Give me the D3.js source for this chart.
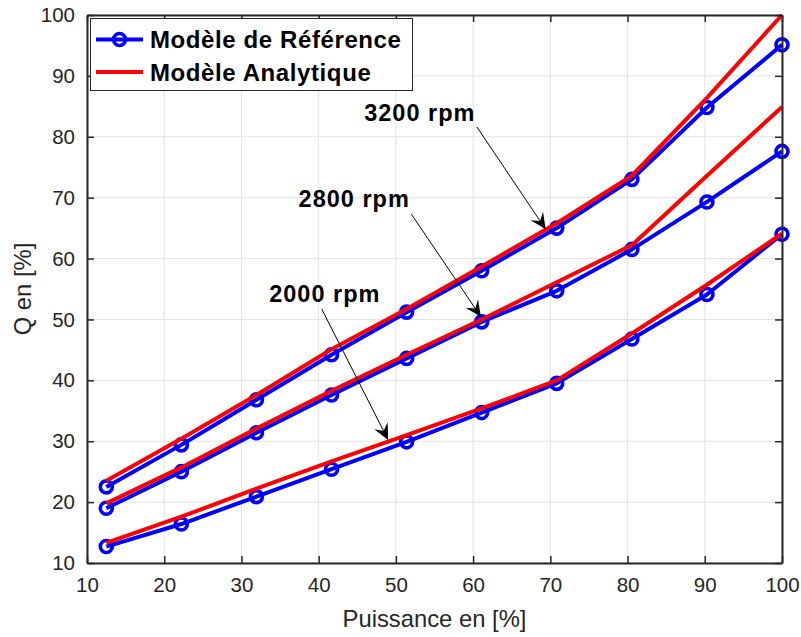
<!DOCTYPE html>
<html>
<head>
<meta charset="utf-8">
<script src="https://cdn.jsdelivr.net/npm/d3@7"></script>
<style>
  html, body { margin: 0; padding: 0; background: #fff; }
  svg { display: block; }
  text { font-family: "Liberation Sans", Arial, Helvetica, sans-serif; }
</style>
</head>
<body>
<div id="chart"></div>
<script>
// ---------- data ----------
const puissance = [12.5, 22.22, 31.94, 41.67, 51.39, 61.11, 70.83, 80.56, 90.28, 100];

const ref2000 = [12.7, 16.4, 20.9, 25.4, 29.9, 34.7, 39.5, 46.8, 54.1, 64.0];
const ana2000 = [13.3, 17.6, 22.2, 26.7, 31.0, 35.4, 40.0, 47.7, 55.7, 64.1];
const ref2800 = [19.0, 25.0, 31.4, 37.6, 43.6, 49.6, 54.7, 61.5, 69.3, 77.6];
const ana2800 = [19.8, 25.7, 32.1, 38.3, 44.2, 50.0, 56.1, 62.2, 73.6, 84.9];
const ref3200 = [22.5, 29.4, 36.8, 44.2, 51.2, 58.0, 65.0, 73.0, 84.8, 95.1];
const ana3200 = [23.5, 30.4, 37.6, 45.1, 51.7, 58.7, 65.8, 73.6, 86.4, 100];

const xTicks = [10, 20, 30, 40, 50, 60, 70, 80, 90, 100];
const yTicks = [10, 20, 30, 40, 50, 60, 70, 80, 90, 100];

const legendLabels = ["Modèle de Référence", "Modèle Analytique"];
const xLabel = "Puissance en [%]";
const yLabel = "Q en [%]";

// annotations: label, label centre (x,y data), arrow start, arrow tip
const annLabels = ["3200 rpm", "2800 rpm", "2000 rpm"];
const annText = [[53.1, 82.6], [44.6, 68.5], [40.8, 52.8]];
const annFrom = [[60.5, 81.6], [52.0, 67.3], [40.4, 51.7]];
const annTo   = [[69.4, 64.8], [61.0, 50.45], [49.0, 30.2]];

(function () {
// ---------- layout ----------
const W = 801, H = 637;
const pL = 87, pR = 782, pT = 15, pB = 563;
const blue = "#0000ff", red = "#ff0000", axisCol = "#262626";

const svg = d3.select("#chart").append("svg").attr("width", W).attr("height", H);

const x = d3.scaleLinear().domain([10, 100]).range([pL, pR]);
const y = d3.scaleLinear().domain([10, 100]).range([pB, pT]);

// grid
const grid = svg.append("g");
grid.selectAll("line.gx").data(xTicks).join("line")
  .attr("x1", d => x(d)).attr("x2", d => x(d)).attr("y1", pT).attr("y2", pB)
  .attr("stroke", "#e3e3e3").attr("stroke-width", 1);
grid.selectAll("line.gy").data(yTicks).join("line")
  .attr("y1", d => y(d)).attr("y2", d => y(d)).attr("x1", pL).attr("x2", pR)
  .attr("stroke", "#e3e3e3").attr("stroke-width", 1);

// series
const line = d3.line().x((d, i) => x(puissance[i])).y(d => y(d));
const series = [
  {v: ref2000, c: blue, m: true}, {v: ana2000, c: red, m: false},
  {v: ref2800, c: blue, m: true}, {v: ana2800, c: red, m: false},
  {v: ref3200, c: blue, m: true}, {v: ana3200, c: red, m: false}
];
const gRef = svg.append("g"), gAna = svg.append("g");
series.forEach(s => {
  const g = s.m ? gRef : gAna;
  g.append("path").datum(s.v).attr("d", line)
    .attr("fill", "none").attr("stroke", s.c).attr("stroke-width", 4)
    .attr("stroke-linejoin", "round").attr("stroke-linecap", "butt");
  if (s.m) {
    g.selectAll(null).data(s.v).join("circle")
      .attr("cx", (d, i) => x(puissance[i])).attr("cy", d => y(d))
      .attr("r", 6).attr("fill", "none").attr("stroke", s.c).attr("stroke-width", 3.6);
  }
});

// axes
function styleAxis(g) {
  g.select(".domain").attr("stroke", axisCol).attr("stroke-width", 2);
  g.selectAll(".tick line").attr("stroke", axisCol).attr("stroke-width", 1.5);
  g.selectAll(".tick text").attr("fill", axisCol).style("font-size", "20.5px")
    .style("font-family", '"Liberation Sans", Arial, sans-serif');
}
svg.append("g").attr("transform", `translate(0,${pB})`)
  .call(d3.axisBottom(x).tickValues(xTicks).tickSizeInner(-7).tickSizeOuter(0).tickPadding(14))
  .call(styleAxis);
svg.append("g").attr("transform", `translate(${pL},0)`)
  .call(d3.axisLeft(y).tickValues(yTicks).tickSizeInner(-7).tickSizeOuter(0).tickPadding(12))
  .call(styleAxis);
svg.append("g").attr("transform", `translate(0,${pT})`)
  .call(d3.axisTop(x).tickValues(xTicks).tickSizeInner(-7).tickSizeOuter(0).tickFormat(""))
  .call(styleAxis);
svg.append("g").attr("transform", `translate(${pR},0)`)
  .call(d3.axisRight(y).tickValues(yTicks).tickSizeInner(-7).tickSizeOuter(0).tickFormat(""))
  .call(styleAxis);

// axis labels
svg.append("text").attr("x", (pL + pR) / 2).attr("y", 627)
  .attr("text-anchor", "middle").attr("fill", axisCol).style("font-size", "23.8px").text(xLabel);
svg.append("text").attr("transform", `translate(31,${(pT + pB) / 2}) rotate(-90)`)
  .attr("text-anchor", "middle").attr("fill", axisCol).style("font-size", "23.8px").text(yLabel);

// annotations
const ann = svg.append("g");
annLabels.forEach((lab, i) => {
  ann.append("text").attr("x", x(annText[i][0])).attr("y", y(annText[i][1]))
    .attr("text-anchor", "middle").attr("fill", "#000")
    .style("font-size", "23.5px").style("font-weight", "bold").style("letter-spacing", "1px").text(lab);
  const x0 = x(annFrom[i][0]), y0 = y(annFrom[i][1]);
  const x1 = x(annTo[i][0]), y1 = y(annTo[i][1]);
  const dx = x1 - x0, dy = y1 - y0, L = Math.hypot(dx, dy);
  const ux = dx / L, uy = dy / L, px = -uy, py = ux;
  const hl = 16, hw = 7.5, notch = 10;
  const bx = x1 - ux * hl, by = y1 - uy * hl;
  const nx = x1 - ux * notch, ny = y1 - uy * notch;
  ann.append("line").attr("x1", x0).attr("y1", y0).attr("x2", nx).attr("y2", ny)
    .attr("stroke", "#000").attr("stroke-width", 1);
  ann.append("path")
    .attr("d", `M${x1},${y1} L${bx + px * hw},${by + py * hw} L${nx},${ny} L${bx - px * hw},${by - py * hw} Z`)
    .attr("fill", "#000");
});

// legend
const lg = svg.append("g");
lg.append("rect").attr("x", 90.5).attr("y", 18.5).attr("width", 322).attr("height", 72)
  .attr("fill", "#fff").attr("stroke", axisCol).attr("stroke-width", 1);
const legRows = [{c: blue, m: true, yy: 39.5}, {c: red, m: false, yy: 72}];
legRows.forEach((r, i) => {
  lg.append("line").attr("x1", 96).attr("x2", 143).attr("y1", r.yy).attr("y2", r.yy)
    .attr("stroke", r.c).attr("stroke-width", 4);
  if (r.m) lg.append("circle").attr("cx", 119.5).attr("cy", r.yy).attr("r", 6)
    .attr("fill", "none").attr("stroke", r.c).attr("stroke-width", 3.6);
  lg.append("text").attr("x", 150).attr("y", r.yy + 8.5).attr("fill", "#000")
    .style("font-size", "24px").style("font-weight", "bold").style("letter-spacing", "0.6px")
    .text(legendLabels[i]);
});
})();
</script>
</body>
</html>
